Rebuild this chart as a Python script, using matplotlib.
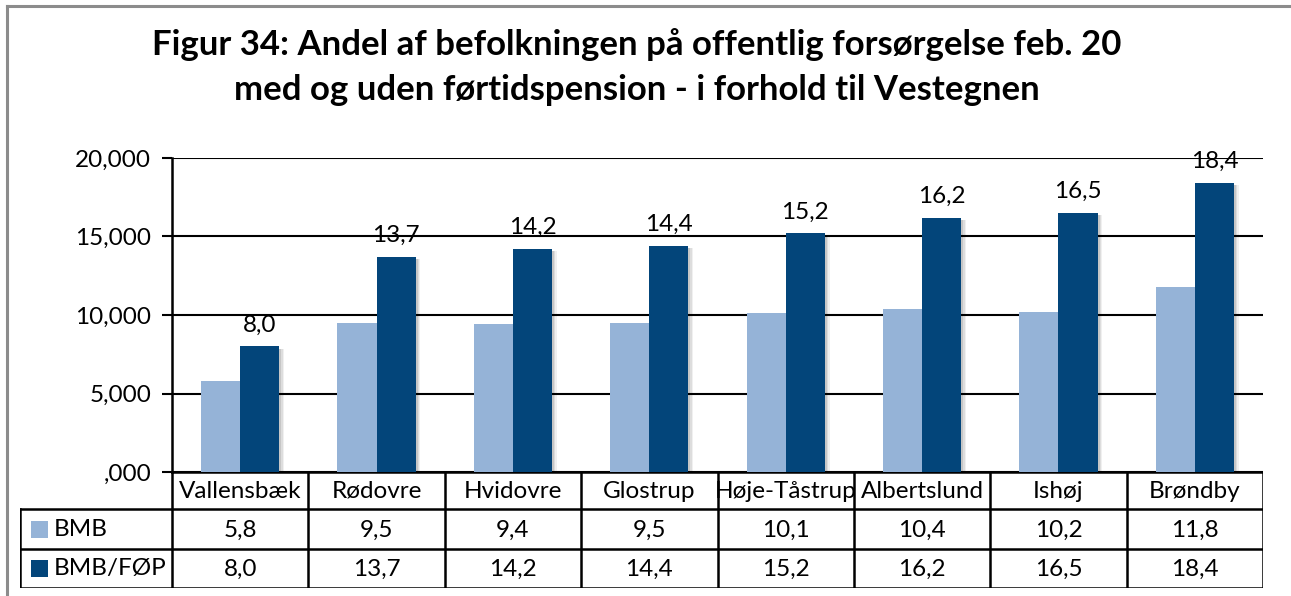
import matplotlib.pyplot as plt
import numpy as np

plt.rcParams['font.family'] = ['Lato', 'DejaVu Sans']

kommuner = ["Vallensbæk", "Rødovre", "Hvidovre", "Glostrup", "Høje-Tåstrup",
            "Albertslund", "Ishøj", "Brøndby"]
bmb = [5.8, 9.5, 9.4, 9.5, 10.1, 10.4, 10.2, 11.8]
bmb_foep = [8.0, 13.7, 14.2, 14.4, 15.2, 16.2, 16.5, 18.4]
serier = ["BMB", "BMB/FØP"]
y_ticks = [0, 5, 10, 15, 20]
y_labels = [",000", "5,000", "10,000", "15,000", "20,000"]

light = "#95B3D7"
dark = "#03457A"

W, H = 1291, 596
fig = plt.figure(figsize=(W / 100, H / 100), dpi=100)

# gray frame line along the top and left edge
fig.add_artist(plt.Line2D([7 / W, 7 / W], [0, 1 - 6 / H], color="#8c8c8c", lw=2.2))
fig.add_artist(plt.Line2D([7 / W, 1], [1 - 6 / H, 1 - 6 / H], color="#8c8c8c", lw=2.2))

fig.text(637 / W, 1 - 45 / H, "Figur 34: Andel af befolkningen på offentlig forsørgelse feb. 20",
         ha="center", va="center", fontsize=25, fontweight="bold")
fig.text(637 / W, 1 - 90 / H, "med og uden førtidspension - i forhold til Vestegnen",
         ha="center", va="center", fontsize=25, fontweight="bold")

# main plot area
x0, x1, ytop, ybot = 172, 1263, 158, 472
ax = fig.add_axes([x0 / W, 1 - ybot / H, (x1 - x0) / W, (ybot - ytop) / H])
n = len(kommuner)
x = np.arange(n) + 0.5
bw = 0.287

# soft drop shadow behind the bars
for k, a in [(0.035, 0.06), (0.025, 0.08), (0.015, 0.1)]:
    ax.bar(x - bw / 2 + k, bmb, bw, bottom=-0.15, color="black", alpha=a, lw=0, zorder=2)
    ax.bar(x + bw / 2 + k, bmb_foep, bw, bottom=-0.15, color="black", alpha=a, lw=0, zorder=2)

ax.bar(x - bw / 2, bmb, bw, color=light, zorder=3)
ax.bar(x + bw / 2, bmb_foep, bw, color=dark, zorder=3)

for xi, v in zip(x, bmb_foep):
    ax.text(xi + bw / 2, v + 0.7, f"{v:.1f}".replace(".", ","), ha="center", va="bottom",
            fontsize=17.5, zorder=4)

ax.set_xlim(0, n)
ax.set_ylim(0, 20)
ax.set_yticks(y_ticks)
ax.set_yticklabels(y_labels, fontsize=17.5)
ax.set_xticks([])
ax.tick_params(axis="y", length=7, width=1.5, pad=8)
ax.grid(axis="y", color="black", lw=1.5, zorder=1)
for s in ["top", "right", "bottom"]:
    ax.spines[s].set_visible(False)
ax.spines["left"].set_linewidth(1.8)
ax.spines["left"].set_zorder(5)

# data table under the plot
tl = 20
lw_cols = (x0 - tl) / ((x1 - x0) / n)
tab = fig.add_axes([tl / W, 1 - 588 / H, (x1 - tl) / W, (588 - ybot) / H])
tab.set_xlim(-lw_cols, n)
tab.set_ylim(116, 0)
tab.axis("off")
rows = [0, 37, 77, 116]
lc = dict(color="black", lw=1.8, solid_capstyle="projecting")

tab.plot([0, n], [0, 0], **lc)
for r in rows[1:]:
    tab.plot([-lw_cols, n], [r, r], **lc)
for c in range(n + 1):
    tab.plot([c, c], [0, 116], **lc)
tab.plot([-lw_cols, -lw_cols], [rows[1], 116], **lc)

fs = 17.5
for i, navn in enumerate(kommuner):
    tab.text(i + 0.5, 19, navn, ha="center", va="center", fontsize=fs)
    tab.text(i + 0.5, 58, f"{bmb[i]:.1f}".replace(".", ","), ha="center", va="center", fontsize=fs)
    tab.text(i + 0.5, 97, f"{bmb_foep[i]:.1f}".replace(".", ","), ha="center", va="center",
             fontsize=fs)

sq = 0.125
for (r0, r1), navn, col in zip([(37, 77), (77, 116)], serier, [light, dark]):
    mid = (r0 + r1) / 2
    tab.add_patch(plt.Rectangle((-lw_cols + 0.08, mid - 8.5), sq, 17, color=col, lw=0))
    tab.text(-lw_cols + 0.25, mid, navn, ha="left", va="center", fontsize=fs)

fig.savefig("out.png", dpi=100)
